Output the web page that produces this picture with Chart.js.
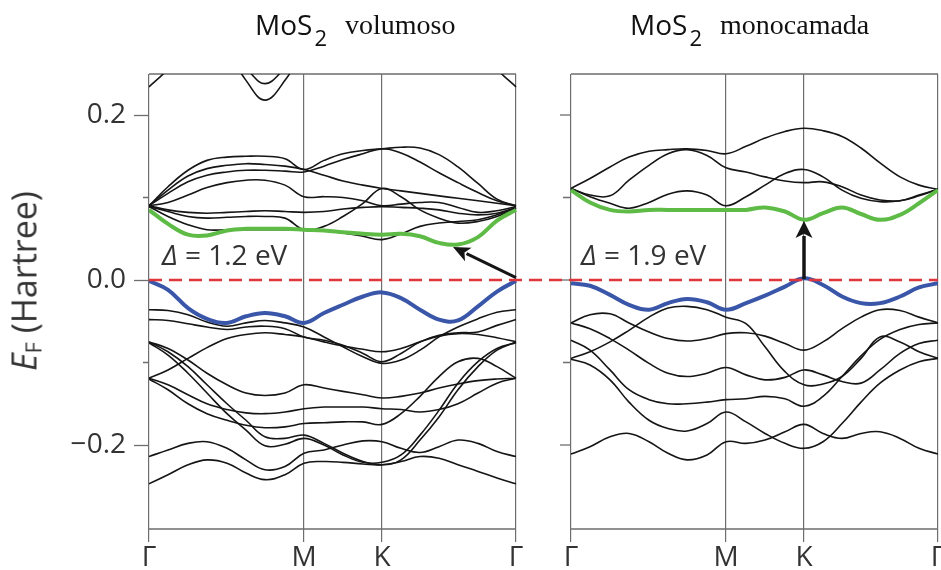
<!DOCTYPE html>
<html><head><meta charset="utf-8">
<script src="https://cdn.jsdelivr.net/npm/chart.js@4.4.0/dist/chart.umd.min.js"></script>
<style>
html,body{margin:0;padding:0;background:#fff;}
#wrap{position:relative;width:941px;height:570px;overflow:hidden;background:#fff;}
#c{position:absolute;left:0;top:0;}
.t{position:absolute;white-space:nowrap;line-height:1;color:#111;}
.sans{font-family:'Open Sans',sans-serif;}
.serif{font-family:'Liberation Serif',serif;}
#ytitle{position:absolute;left:25px;top:281px;transform:translate(-50%,-50%) rotate(-90deg);font-family:'Open Sans',sans-serif;font-size:34px;line-height:1;white-space:nowrap;color:#333;}
#ytitle sub{font-size:22px;vertical-align:-5px;font-style:normal;}
</style></head>
<body>
<div id="wrap">
<canvas id="c" width="941" height="570"></canvas>
<div class="t sans" style="left:255px;top:10px;font-size:28px;">MoS<span style="font-size:22px;position:relative;top:11px;margin-left:2px;">2</span></div>
<div class="t serif" style="left:345px;top:11px;font-size:28px;">volumoso</div>
<div class="t sans" style="left:630px;top:10px;font-size:28px;">MoS<span style="font-size:22px;position:relative;top:11px;margin-left:2px;">2</span></div>
<div class="t serif" style="left:720px;top:11px;font-size:28px;">monocamada</div>
<div id="ytitle"><i>E</i><sub>F</sub> (Hartree)</div>
</div>
<script>
// ---- k-path (distance along Γ-M-K-Γ) and labels ----
const kPath = [0,19,39,58,78,97,116,136,155,175,194,214,233,252,271,290,309,329,348,367];
const symK = [0,155,233,367];
const symLabels = ['Γ','M','K','Γ'];
const yTicks = [-0.2,-0.1,0,0.1,0.2];
const yTickLabels = ['−0.2','','0.0','','0.2'];
const gapTexts = ['= 1.2 eV','= 1.9 eV'];

// ---- bulk MoS2 (Hartree) ----
const bulkGreen = [0.085,0.068,0.055,0.054,0.060,0.062,0.062,0.062,0.061,0.060,0.058,0.056,0.055,0.056,0.053,0.045,0.043,0.052,0.072,0.085];
const bulkBlue  = [-0.001,-0.012,-0.034,-0.047,-0.052,-0.044,-0.040,-0.044,-0.052,-0.040,-0.030,-0.020,-0.015,-0.022,-0.036,-0.048,-0.049,-0.032,-0.014,-0.001];
const bulkCond = [
 [0.089,0.077,0.067,0.061,0.061,0.061,0.061,0.061,0.061,0.060,0.057,0.053,0.049,0.056,0.065,0.069,0.071,0.073,0.079,0.087],
 [0.089,0.083,0.077,0.075,0.076,0.077,0.077,0.075,0.061,0.065,0.077,0.093,0.111,0.101,0.085,0.075,0.069,0.071,0.077,0.087],
 [0.090,0.085,0.082,0.081,0.082,0.083,0.084,0.083,0.082,0.083,0.086,0.088,0.089,0.088,0.087,0.085,0.081,0.079,0.081,0.088],
 [0.090,0.094,0.103,0.112,0.118,0.121,0.121,0.115,0.101,0.101,0.100,0.096,0.090,0.092,0.094,0.094,0.088,0.082,0.084,0.089],
 [0.090,0.105,0.119,0.127,0.131,0.133,0.133,0.132,0.131,0.138,0.146,0.153,0.159,0.154,0.143,0.130,0.118,0.106,0.096,0.090],
 [0.090,0.109,0.126,0.135,0.139,0.141,0.140,0.138,0.134,0.127,0.120,0.115,0.111,0.108,0.105,0.102,0.099,0.096,0.093,0.090],
 [0.090,0.113,0.133,0.145,0.149,0.150,0.150,0.147,0.134,0.145,0.153,0.157,0.159,0.161,0.160,0.152,0.137,0.117,0.098,0.090]
];
const bulkUpper = [
 [0.234,0.256,0.290,null,null,null,null,null,null,null,null,null,null,null,null,null,null,0.290,0.256,0.234],
 [null,null,null,null,0.280,0.242,0.218,0.242,0.280,null,null,null,null,null,null,null,null,null,null,null],
 [null,null,null,null,null,0.256,0.238,0.256,null,null,null,null,null,null,null,null,null,null,null,null]
];
const bulkVal = [
 [-0.036,-0.037,-0.042,-0.051,-0.056,-0.052,-0.049,-0.052,-0.057,-0.069,-0.081,-0.093,-0.101,-0.097,-0.085,-0.069,-0.057,-0.047,-0.039,-0.036],
 [-0.048,-0.049,-0.053,-0.057,-0.060,-0.057,-0.056,-0.059,-0.069,-0.073,-0.079,-0.089,-0.099,-0.089,-0.075,-0.067,-0.064,-0.063,-0.055,-0.048],
 [-0.075,-0.087,-0.105,-0.127,-0.150,-0.170,-0.190,-0.192,-0.188,-0.198,-0.210,-0.220,-0.224,-0.218,-0.194,-0.166,-0.133,-0.105,-0.085,-0.075],
 [-0.076,-0.091,-0.113,-0.137,-0.162,-0.182,-0.201,-0.199,-0.192,-0.200,-0.212,-0.221,-0.221,-0.212,-0.188,-0.158,-0.125,-0.099,-0.083,-0.076],
 [-0.119,-0.109,-0.095,-0.082,-0.071,-0.066,-0.064,-0.066,-0.069,-0.075,-0.080,-0.084,-0.087,-0.083,-0.075,-0.068,-0.065,-0.066,-0.070,-0.075],
 [-0.075,-0.083,-0.097,-0.113,-0.127,-0.137,-0.140,-0.137,-0.127,-0.131,-0.135,-0.139,-0.143,-0.141,-0.137,-0.131,-0.126,-0.122,-0.120,-0.119],
 [-0.119,-0.127,-0.139,-0.150,-0.157,-0.161,-0.162,-0.160,-0.156,-0.154,-0.154,-0.154,-0.156,-0.157,-0.160,-0.157,-0.150,-0.137,-0.125,-0.119],
 [-0.120,-0.133,-0.150,-0.162,-0.170,-0.176,-0.179,-0.178,-0.174,-0.173,-0.172,-0.172,-0.175,-0.162,-0.141,-0.117,-0.099,-0.095,-0.105,-0.119],
 [-0.214,-0.206,-0.198,-0.196,-0.204,-0.218,-0.230,-0.226,-0.210,-0.206,-0.200,-0.195,-0.196,-0.204,-0.209,-0.202,-0.194,-0.198,-0.208,-0.214],
 [-0.247,-0.236,-0.224,-0.218,-0.222,-0.234,-0.242,-0.236,-0.222,-0.220,-0.221,-0.223,-0.224,-0.220,-0.214,-0.216,-0.224,-0.232,-0.240,-0.247]
];

// ---- monolayer MoS2 (Hartree) ----
const monoGreen = [0.109,0.094,0.085,0.083,0.085,0.085,0.085,0.085,0.085,0.085,0.088,0.083,0.073,0.081,0.088,0.080,0.073,0.079,0.093,0.109];
const monoBlue  = [-0.004,-0.007,-0.018,-0.030,-0.036,-0.028,-0.023,-0.027,-0.036,-0.028,-0.019,-0.008,0.002,-0.006,-0.020,-0.028,-0.028,-0.020,-0.009,-0.004];
const monoCond = [
 [0.111,0.101,0.093,0.087,0.094,0.104,0.108,0.103,0.090,0.101,0.115,0.129,0.134,0.125,0.109,0.099,0.095,0.096,0.102,0.110],
 [0.111,0.103,0.102,0.121,0.139,0.153,0.158,0.151,0.136,0.131,0.125,0.120,0.118,0.119,0.113,0.103,0.097,0.096,0.103,0.110],
 [0.111,0.123,0.137,0.149,0.156,0.158,0.159,0.157,0.153,0.162,0.172,0.180,0.184,0.181,0.174,0.160,0.142,0.125,0.115,0.110]
];
const monoVal = [
 [-0.052,-0.042,-0.041,-0.052,-0.063,-0.071,-0.074,-0.071,-0.065,-0.064,-0.068,-0.077,-0.085,-0.075,-0.059,-0.045,-0.036,-0.037,-0.045,-0.052],
 [-0.095,-0.087,-0.075,-0.061,-0.045,-0.034,-0.032,-0.036,-0.045,-0.053,-0.081,-0.111,-0.127,-0.126,-0.117,-0.095,-0.069,-0.075,-0.087,-0.095],
 [-0.052,-0.059,-0.071,-0.085,-0.101,-0.113,-0.117,-0.113,-0.106,-0.115,-0.121,-0.118,-0.109,-0.115,-0.123,-0.125,-0.109,-0.089,-0.077,-0.073],
 [-0.073,-0.085,-0.109,-0.133,-0.145,-0.150,-0.150,-0.148,-0.145,-0.144,-0.141,-0.144,-0.153,-0.141,-0.117,-0.092,-0.072,-0.060,-0.054,-0.052],
 [-0.096,-0.103,-0.121,-0.148,-0.170,-0.180,-0.183,-0.174,-0.160,-0.172,-0.186,-0.198,-0.204,-0.196,-0.174,-0.148,-0.125,-0.109,-0.099,-0.095],
 [-0.211,-0.202,-0.190,-0.186,-0.196,-0.210,-0.218,-0.212,-0.196,-0.198,-0.194,-0.184,-0.175,-0.186,-0.192,-0.186,-0.184,-0.192,-0.204,-0.211]
];

// ---- layout / style ----
const X_GAP = 422;                 // offset of the monolayer panel on the shared x scale
const PATH_END = symK[symK.length-1];
const panels = [0, X_GAP];
const BLACK = '#151515', GREEN = '#5dbb46', BLUE = '#3a56a8', RED = '#e0353b', FRAME = '#6e6e6e', TXT = '#333';

const pts = (band, off) => kPath.map((k,i)=>({x:k+off, y:band[i]}));
const datasets = [];
datasets.push({data:[{x:0,y:0},{x:X_GAP+PATH_END,y:0}], borderColor:RED, borderWidth:2.6, borderDash:[13,7], tension:0});
[[bulkGreen,0,GREEN],[monoGreen,X_GAP,GREEN],[bulkBlue,0,BLUE],[monoBlue,X_GAP,BLUE]].forEach(([b,o,c])=>{
  datasets.push({data:pts(b,o), borderColor:c, borderWidth:4});
});
[[bulkCond,0],[bulkUpper,0],[bulkVal,0],[monoCond,X_GAP],[monoVal,X_GAP]].forEach(([g,o])=>{
  g.forEach(b=>datasets.push({data:pts(b,o), borderColor:BLACK, borderWidth:1.6}));
});

const xTickVals = panels.flatMap(o=>symK.map(k=>k+o));
const xTickLabels = panels.flatMap(()=>symLabels);

const deco = {
  id:'deco',
  beforeDatasetsDraw(chart){
    const {ctx, chartArea:a, scales:{x,y}} = chart;
    ctx.save();
    ctx.strokeStyle = FRAME; ctx.lineWidth = 1.3;
    panels.forEach(o=>{
      const x0 = x.getPixelForValue(o), x1 = x.getPixelForValue(o+PATH_END);
      ctx.beginPath();
      ctx.moveTo(x0,a.top); ctx.lineTo(x1,a.top);
      ctx.moveTo(x0,a.bottom); ctx.lineTo(x1,a.bottom);
      ctx.stroke();
    });
    const xl = x.getPixelForValue(0), xr = x.getPixelForValue(X_GAP);
    yTicks.forEach((v,i)=>{
      const py = y.getPixelForValue(v), major = i%2===0;
      ctx.beginPath();
      if(!major){ ctx.moveTo(xl-6,py); ctx.lineTo(xl,py); }
      ctx.moveTo(xr-(major?11:8),py); ctx.lineTo(xr,py);
      ctx.stroke();
    });
    ctx.restore();
  },
  afterDatasetsDraw(chart){
    const {ctx, scales:{x,y}} = chart;
    ctx.save();
    const arrow = (k0,e0,k1,e1,w,hl,hw)=>{
      const X0=x.getPixelForValue(k0), Y0=y.getPixelForValue(e0), X1=x.getPixelForValue(k1), Y1=y.getPixelForValue(e1);
      const ang = Math.atan2(Y1-Y0, X1-X0);
      const bx = X1 - hl*Math.cos(ang), by = Y1 - hl*Math.sin(ang);
      ctx.strokeStyle = BLACK; ctx.fillStyle = BLACK; ctx.lineWidth = w;
      ctx.beginPath(); ctx.moveTo(X0,Y0); ctx.lineTo(bx+2*Math.cos(ang),by+2*Math.sin(ang)); ctx.stroke();
      ctx.beginPath(); ctx.moveTo(X1,Y1);
      ctx.lineTo(bx + hw/2*Math.sin(ang), by - hw/2*Math.cos(ang));
      ctx.lineTo(bx + 0.25*hl*Math.cos(ang), by + 0.25*hl*Math.sin(ang));
      ctx.lineTo(bx - hw/2*Math.sin(ang), by + hw/2*Math.cos(ang));
      ctx.closePath(); ctx.fill();
    };
    arrow(PATH_END, 0.003, 304, 0.040, 3, 17, 15);
    arrow(X_GAP+symK[2], 0.001, X_GAP+symK[2], 0.0715, 3.5, 17, 17);
    ctx.fillStyle = TXT; ctx.textBaseline = 'alphabetic';
    [[13,0],[432,1]].forEach(([k,i])=>{
      const px = x.getPixelForValue(k), py = y.getPixelForValue(0.018);
      ctx.font = 'italic 28px "Open Sans"';
      ctx.fillText('Δ', px, py);
      const w = ctx.measureText('Δ ').width;
      ctx.font = '28px "Open Sans"';
      ctx.fillText(gapTexts[i], px + w, py);
    });
    ctx.restore();
  }
};

new Chart(document.getElementById('c'), {
  type:'line',
  data:{datasets},
  plugins:[deco],
  options:{
    responsive:false, animation:false, events:[],
    layout:{padding:{left:0,right:3,top:74,bottom:0}},
    datasets:{line:{pointRadius:0, tension:0.4, clip:0, spanGaps:false}},
    plugins:{legend:{display:false}, tooltip:{enabled:false}},
    scales:{
      x:{type:'linear', min:0, max:X_GAP+PATH_END,
        afterBuildTicks:s=>{ s.ticks = xTickVals.map(v=>({value:v})); },
        afterFit:s=>{ s.height = 41; s.paddingLeft = 0; s.paddingRight = 0; },
        border:{display:false},
        grid:{color:FRAME, lineWidth:1.2, tickLength:13, tickColor:FRAME, tickWidth:1.2},
        ticks:{autoSkip:false, maxRotation:0, minRotation:0, padding:-1, color:TXT,
          font:{family:'Open Sans', size:28}, callback:(v,i)=>xTickLabels[i]}
      },
      y:{type:'linear', min:-0.3018, max:0.2497,
        afterBuildTicks:s=>{ s.ticks = yTicks.map(v=>({value:v})); },
        afterFit:s=>{ s.width = 149; },
        border:{display:false},
        grid:{drawOnChartArea:false, tickLength:15, tickWidth:1.3,
          tickColor:c=> (c.index%2===0 ? FRAME : 'rgba(0,0,0,0)')},
        ticks:{padding:8, color:TXT, font:{family:'Open Sans', size:28}, callback:(v,i)=>yTickLabels[i]}
      }
    }
  }
});
</script>
</body></html>
